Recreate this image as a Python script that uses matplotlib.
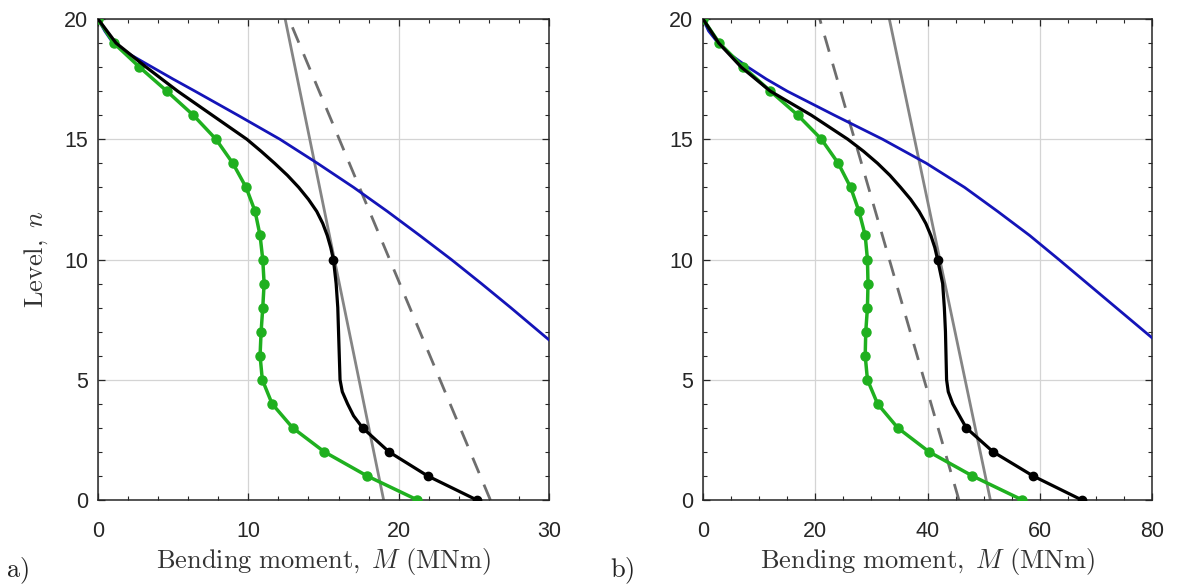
import matplotlib
matplotlib.use("Agg")
import matplotlib.pyplot as plt
from matplotlib.ticker import MultipleLocator
import numpy as np

# levels 0..20 (bottom to top)
levels = list(range(0, 21))
black_levels = [0, 1, 2, 3, 3.5, 4, 4.5, 5, 6, 7, 8, 9, 10, 10.5, 11, 11.5, 12, 12.5, 13, 13.5,
                14, 14.5, 15, 16, 17, 18, 19, 20]
black_marked = [0, 1, 2, 3, 10]
blue_levels = [6, 7, 8, 9, 10, 11, 12, 13, 14, 15, 16, 17, 17.5, 18, 18.5, 19, 19.5, 20]
ref_levels = [0, 20]

# panel a)
green_a = [21.25, 17.9, 15.06, 12.95, 11.58, 10.93, 10.78, 10.85, 10.96, 11.05, 10.96,
           10.78, 10.45, 9.85, 8.97, 7.85, 6.34, 4.58, 2.76, 1.05, 0.0]
black_a = [25.2, 21.93, 19.36, 17.6, 17.0, 16.6, 16.25, 16.1, 16.05, 16.0, 15.95, 15.84, 15.66,
           15.48, 15.25, 14.95, 14.55, 14.0, 13.35, 12.6, 11.75, 10.85, 9.9, 7.6, 5.3, 3.2, 1.2, 0.0]
blue_a = [31.25, 29.35, 27.45, 25.5, 23.5, 21.4, 19.25, 17.0, 14.6, 12.1, 9.3, 6.45, 5.0,
          3.6, 2.2, 1.0, 0.45, 0.0]
gray_a = [19.0, 12.45]
dashed_a = [26.1, 12.7]

# panel b)
green_b = [56.9, 48.0, 40.3, 34.7, 31.1, 29.3, 28.9, 29.0, 29.3, 29.4, 29.3,
           28.9, 27.8, 26.3, 24.1, 21.1, 16.9, 12.0, 7.2, 2.9, 0.0]
black_b = [67.5, 58.8, 51.7, 46.9, 45.7, 44.5, 43.7, 43.4, 43.3, 43.2, 43.0, 42.7, 41.8,
           41.3, 40.6, 39.7, 38.5, 37.0, 35.2, 33.3, 31.1, 28.6, 25.8, 19.3, 12.0, 6.8, 2.8, 0.0]
blue_b = [83.8, 78.7, 73.6, 68.5, 63.4, 58.2, 52.5, 46.6, 39.8, 32.0, 23.4, 15.0, 11.3,
          8.0, 5.0, 2.7, 1.0, 0.0]
gray_b = [51.2, 33.2]
dashed_b = [45.6, 20.8]

GREEN = "#1fb01f"
BLUE = "#1414b8"
GRAY = "#858585"
DGRAY = "#6e6e6e"

plt.rcParams["mathtext.fontset"] = "cm"
plt.rcParams["font.family"] = ["Liberation Sans", "DejaVu Sans"]


def draw_panel(ax, green, black, blue, gray, dashed, xmax, xmajor, xminor):
    ax.grid(True, which="major", color="#d4d4d4", linewidth=0.9, zorder=0)
    ax.plot(dashed, ref_levels, color=DGRAY, linewidth=2.0, dashes=(6, 4.5), zorder=2)
    ax.plot(gray, ref_levels, color=GRAY, linewidth=2.0, zorder=2)
    ax.plot(blue, blue_levels, color=BLUE, linewidth=2.0, zorder=3)
    ax.plot(green, levels, color=GREEN, linewidth=2.5, marker="o", markersize=6.5, zorder=4)
    marks = [i for i, lv in enumerate(black_levels) if lv in black_marked]
    ax.plot(black, black_levels, color="black", linewidth=2.3, marker="o", markersize=6,
            markevery=marks, zorder=5)
    ax.set_xlim(0, xmax)
    ax.set_ylim(0, 20)
    ax.xaxis.set_major_locator(MultipleLocator(xmajor))
    ax.xaxis.set_minor_locator(MultipleLocator(xminor))
    ax.yaxis.set_major_locator(MultipleLocator(5))
    ax.yaxis.set_minor_locator(MultipleLocator(1))
    ax.tick_params(which="both", direction="in", top=True, right=True, colors="#262626",
                   labelcolor="#262626", labelsize=15.5)
    ax.tick_params(which="major", length=5, width=0.9)
    ax.tick_params(which="minor", length=3, width=0.8)
    ax.tick_params(axis="x", pad=15)
    ax.tick_params(axis="y", pad=7)
    for sp in ax.spines.values():
        sp.set_color("#262626")
        sp.set_linewidth(1.1)
    ax.set_xlabel(r"$\mathrm{Bending\ moment,}\ M\ \mathrm{(MNm)}$", fontsize=19, color="#333333",
                  labelpad=3)


def main():
    fig = plt.figure(figsize=(11.77, 5.85), dpi=100)
    ax_a = fig.add_axes([98 / 1177, 1 - 500 / 585, 451 / 1177, 481 / 585])
    ax_b = fig.add_axes([703 / 1177, 1 - 500 / 585, 449 / 1177, 481 / 585])
    draw_panel(ax_a, green_a, black_a, blue_a, gray_a, dashed_a, 30, 10, 2)
    draw_panel(ax_b, green_b, black_b, blue_b, gray_b, dashed_b, 80, 20, 5)
    ax_a.set_ylabel(r"$\mathrm{Level,}\ n$", fontsize=19, color="#333333", labelpad=10)
    fig.text(17 / 1177, 1 - 571 / 585, r"$\mathrm{a)}$", fontsize=19, ha="center", va="center",
             color="#222222")
    fig.text(622 / 1177, 1 - 571 / 585, r"$\mathrm{b)}$", fontsize=19, ha="center", va="center",
             color="#222222")
    fig.savefig("out.png", dpi=100, facecolor="white")


if __name__ == "__main__":
    main()
